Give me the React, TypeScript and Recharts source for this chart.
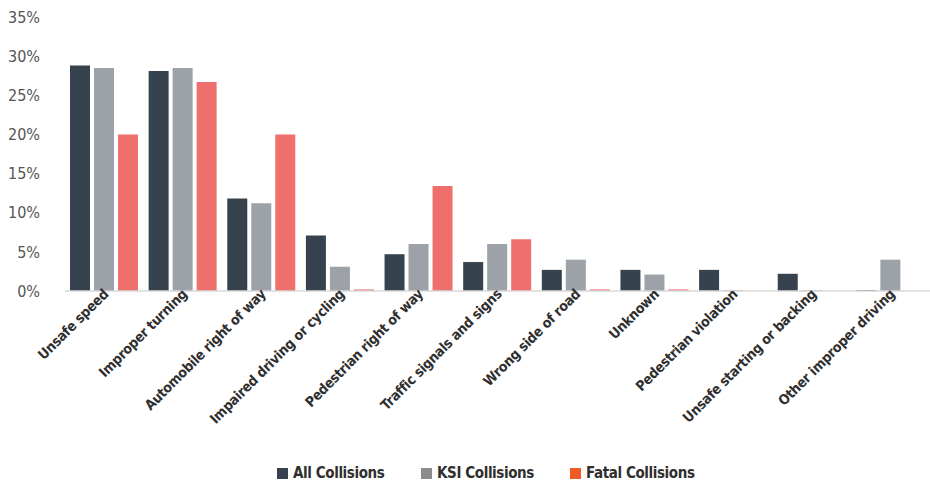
import React from "react";
import { BarChart, Bar, XAxis, YAxis, Legend } from "recharts";

const categories = [
  "Unsafe speed",
  "Improper turning",
  "Automobile right of way",
  "Impaired driving or cycling",
  "Pedestrian right of way",
  "Traffic signals and signs",
  "Wrong side of road",
  "Unknown",
  "Pedestrian violation",
  "Unsafe starting or backing",
  "Other improper driving",
];
const allCollisions = [28.8, 28.1, 11.8, 7.1, 4.7, 3.7, 2.7, 2.7, 2.7, 2.2, 0.1];
const ksiCollisions = [28.5, 28.5, 11.2, 3.1, 6.0, 6.0, 4.0, 2.1, 0.1, 0.1, 4.0];
const fatalCollisions = [20.0, 26.7, 20.0, 0.2, 13.4, 6.6, 0.2, 0.2, 0, 0, 0];
const yTicks = [0, 5, 10, 15, 20, 25, 30, 35];
const seriesNames = ["All Collisions", "KSI Collisions", "Fatal Collisions"];

const data = categories.map((c, i) => ({
  name: c,
  all: allCollisions[i],
  ksi: ksiCollisions[i],
  fatal: fatalCollisions[i],
}));

const FONT = '"DejaVu Sans Condensed", "Liberation Sans Narrow", Arial, sans-serif';
const COLORS = { all: "#36434f", ksi: "#9ca2a8", fatal: "#ee6f6b" };
const LEGEND_COLORS = ["#36434f", "#8c8c8c", "#f05a28"];
const LEGEND_LEFT = [277, 421, 570];

const XTick = (props: any) => {
  const { x, y, payload } = props;
  return (
    <g transform={`translate(${x + 5},${y - 4}) rotate(-45)`}>
      <text
        x={0}
        y={0}
        textAnchor="end"
        fontFamily={FONT}
        fontWeight="bold"
        fontSize={14}
        letterSpacing={-0.3}
        fill="#2f2f2f"
      >
        {payload.value}
      </text>
    </g>
  );
};

const LegendContent = () => (
  <div
    style={{
      position: "relative",
      height: 20,
      width: 930,
      fontFamily: FONT,
      fontWeight: "bold",
      fontSize: 15,
      letterSpacing: -0.4,
      color: "#2f2f2f",
      lineHeight: "20px",
      margin: 0,
    }}
  >
    {seriesNames.map((n, i) => (
      <div
        key={n}
        style={{
          position: "absolute",
          left: LEGEND_LEFT[i],
          top: 0,
          display: "flex",
          alignItems: "center",
          whiteSpace: "nowrap",
        }}
      >
        <span
          style={{
            display: "inline-block",
            width: 11,
            height: 11,
            background: LEGEND_COLORS[i],
            marginRight: 5,
          }}
        />
        <span>{n}</span>
      </div>
    ))}
  </div>
);

export default function App() {
  return (
    <div style={{ position: "absolute", left: 0, top: 0, width: 930, height: 482, background: "#fff" }}>
      <BarChart
        width={930}
        height={482}
        data={data}
        margin={{ top: 17, right: 0, bottom: 0, left: 0 }}
        barSize={20}
        barGap={4}
      >
        <XAxis
          dataKey="name"
          interval={0}
          tickLine={false}
          axisLine={{ stroke: "#d9d9d9", strokeWidth: 1.5 }}
          height={171}
          tick={<XTick />}
        />
        <YAxis
          domain={[0, 35]}
          ticks={yTicks}
          width={65}
          axisLine={false}
          tickLine={false}
          tickMargin={19}
          tickFormatter={(v: number) => `${v}%`}
          tick={{ fontFamily: FONT, fontSize: 16, fill: "#555" }}
        />
        <Legend
          verticalAlign="bottom"
          content={<LegendContent />}
          wrapperStyle={{ top: 463, left: 0, bottom: "auto", width: 930, height: 20 }}
        />
        <Bar dataKey="all" name={seriesNames[0]} fill={COLORS.all} isAnimationActive={false} />
        <Bar dataKey="ksi" name={seriesNames[1]} fill={COLORS.ksi} isAnimationActive={false} />
        <Bar dataKey="fatal" name={seriesNames[2]} fill={COLORS.fatal} isAnimationActive={false} />
      </BarChart>
    </div>
  );
}
